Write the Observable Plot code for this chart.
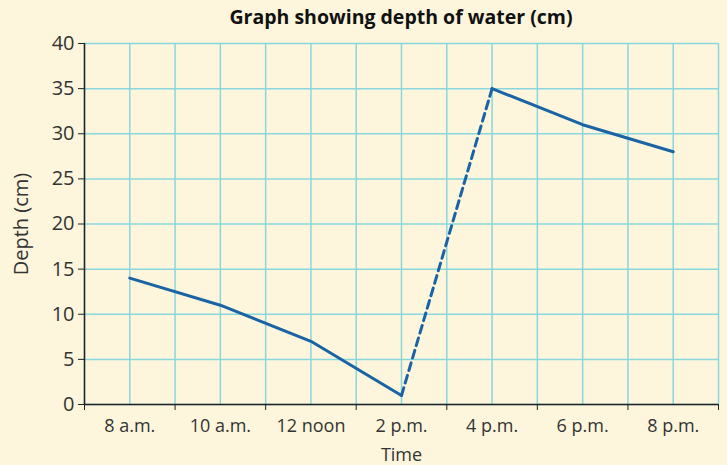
<!DOCTYPE html>
<html><head><meta charset="utf-8">
<script src="https://cdn.jsdelivr.net/npm/d3@7"></script>
<script src="https://cdn.jsdelivr.net/npm/@observablehq/plot@0.6"></script>
<style>
body{margin:0;background:#fdf6dc;font-family:"Open Sans",sans-serif;width:727px;height:465px;overflow:hidden;position:relative}
#title{position:absolute;top:2px;left:84px;width:634px;text-align:center;font-weight:bold;font-size:19.5px;line-height:30px;color:#111}
svg{display:block}
g[aria-label="y-axis tick label"], g[aria-label="y-axis tick label"] text{font-size:20px !important}
g[aria-label="x-axis tick label"], g[aria-label="x-axis tick label"] text{font-size:18px !important}
</style></head><body>
<div id="chart"></div>
<div id="title">Graph showing depth of water (cm)</div>
<script>
const hours = [8, 10, 12, 14, 16, 18, 20];
const timeLabels = ["8 a.m.", "10 a.m.", "12 noon", "2 p.m.", "4 p.m.", "6 p.m.", "8 p.m."];
const depths = [14, 11, 7, 1, 35, 31, 28];
const parts = ["morning", "morning", "morning", "morning", "evening", "evening", "evening"];
const yTicks = [0, 5, 10, 15, 20, 25, 30, 35, 40];
const gridHours = d3.range(7, 22);
const axisTickHours = [7, 9, 11, 13, 15, 17, 19, 21];

const rows = hours.map((h, i) => ({h, d: depths[i], part: parts[i]}));
const gapRows = [rows[3], rows[4]];
const lineColor = "#1a64a6";
const gridColor = "#8ad6df";

const chart = Plot.plot({
  width: 727,
  height: 465,
  marginTop: 43,
  marginBottom: 61,
  marginLeft: 84,
  marginRight: 9,
  style: {background: "transparent", fontFamily: "'Open Sans', sans-serif", fontSize: "19px", color: "#333"},
  x: {domain: [7, 21]},
  y: {domain: [0, 40]},
  marks: [
    Plot.gridX(gridHours, {stroke: gridColor, strokeOpacity: 1, strokeWidth: 1.5}),
    Plot.gridY(yTicks, {stroke: gridColor, strokeOpacity: 1, strokeWidth: 1.5}),
    Plot.axisY(yTicks, {tickSize: 6, tickPadding: 4, fontSize: 20, stroke: "#222",
      label: "Depth (cm)", labelAnchor: "center", labelArrow: "none", labelOffset: 71}),
    Plot.axisX(axisTickHours, {tickSize: 6, tickFormat: () => "", stroke: "#222", label: null}),
    Plot.axisX(hours, {tickSize: 0, tickPadding: 15, fontSize: 18,
      tickFormat: d => timeLabels[hours.indexOf(d)],
      label: "Time", labelAnchor: "center", labelArrow: "none", labelOffset: 56}),
    Plot.ruleX([7], {stroke: "#222", strokeWidth: 1.5}),
    Plot.ruleY([0], {stroke: "#222", strokeWidth: 1.5}),
    Plot.line(rows.filter(r => r.part === "morning"), {x: "h", y: "d", stroke: lineColor, strokeWidth: 3}),
    Plot.line(rows.filter(r => r.part === "evening"), {x: "h", y: "d", stroke: lineColor, strokeWidth: 3}),
    Plot.line(gapRows, {x: "h", y: "d", stroke: lineColor, strokeWidth: 3, strokeDasharray: "8,5"})
  ]
});
document.getElementById("chart").appendChild(chart);
</script>
</body></html>
